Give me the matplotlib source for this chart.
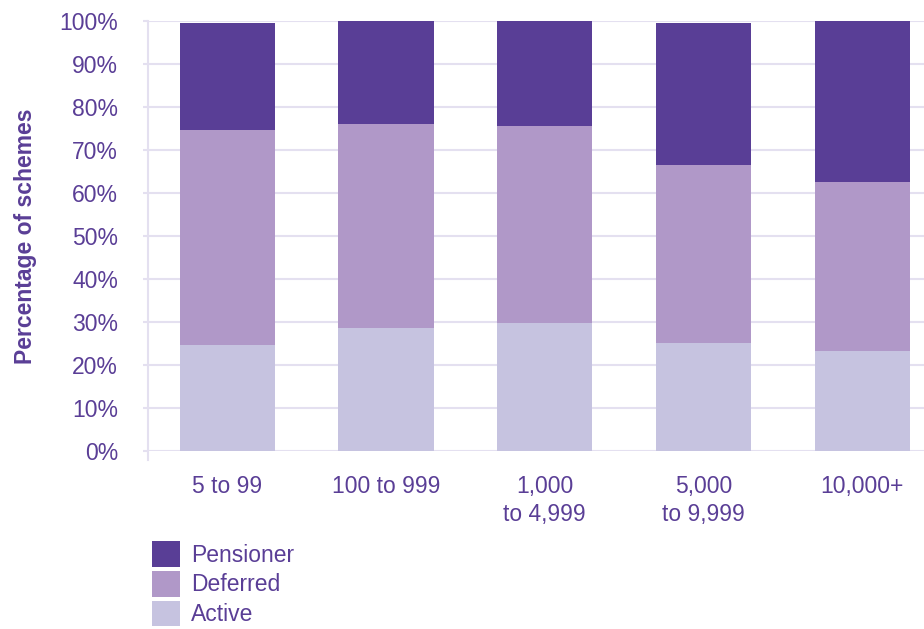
import matplotlib
matplotlib.use("Agg")
import matplotlib.pyplot as plt
from matplotlib.patches import Patch
import numpy as np

categories = ["5 to 99", "100 to 999", "1,000\nto 4,999", "5,000\nto 9,999", "10,000+"]
active = [24.6, 28.6, 29.7, 25.2, 23.2]
deferred = [50.0, 47.4, 45.8, 41.2, 39.4]
pensioner = [24.9, 24.0, 24.5, 33.1, 37.4]
yticks = [0, 10, 20, 30, 40, 50, 60, 70, 80, 90, 100]
ytick_labels = [f"{v}%" for v in yticks]

c_pen = "#593e96"
c_def = "#b098c8"
c_act = "#c6c3e0"
c_text = "#5a3e96"
c_grid = "#e4e0f0"

plt.rcParams['font.family'] = ['Liberation Sans', 'DejaVu Sans']

fig = plt.figure(figsize=(9.24, 6.29), dpi=100)
ax = fig.add_axes([148/924, 1-451/629, 1-148/924, (451-20.5)/629])

x = np.arange(len(categories))
w = 0.6
a = np.array(active); d = np.array(deferred); p = np.array(pensioner)
ax.bar(x, a, w, color=c_act, zorder=3)
ax.bar(x, d, w, bottom=a, color=c_def, zorder=3)
ax.bar(x, p, w, bottom=a + d, color=c_pen, zorder=3)

ax.set_xlim(-0.5, 4.39)
ax.set_ylim(0, 100)
ax.set_yticks(yticks)
ax.set_yticklabels(ytick_labels)
ax.set_xticks(x)
ax.set_xticklabels(categories, linespacing=1.3, va='top')
ax.grid(axis='y', color=c_grid, linewidth=1.5, zorder=0)
for s in ['top', 'right', 'bottom']:
    ax.spines[s].set_visible(False)
ax.spines['left'].set_color(c_grid)
ax.spines['left'].set_linewidth(1.5)
ax.spines['left'].set_bounds(-2, 100)
ax.tick_params(axis='y', colors=c_grid, labelcolor=c_text, labelsize=16.5, length=3.5, width=1.5, pad=18)
ax.tick_params(axis='x', length=0, labelcolor=c_text, labelsize=16.5, pad=17)
ax.set_ylabel("Percentage of schemes", color=c_text, fontsize=16.5, fontweight='bold')
ax.yaxis.set_label_coords(-0.143, 0.5)

handles = [Patch(facecolor=c_pen, label="Pensioner"),
           Patch(facecolor=c_def, label="Deferred"),
           Patch(facecolor=c_act, label="Active")]
leg = fig.legend(handles=handles, loc='upper left', bbox_to_anchor=(152/924, 1-541/629),
                 frameon=False, fontsize=16.5, handlelength=1.22, handleheight=1.35,
                 labelspacing=0.18, handletextpad=0.5, borderpad=0, borderaxespad=0)
for t in leg.get_texts():
    t.set_color(c_text)

fig.savefig("out.png", dpi=100)
